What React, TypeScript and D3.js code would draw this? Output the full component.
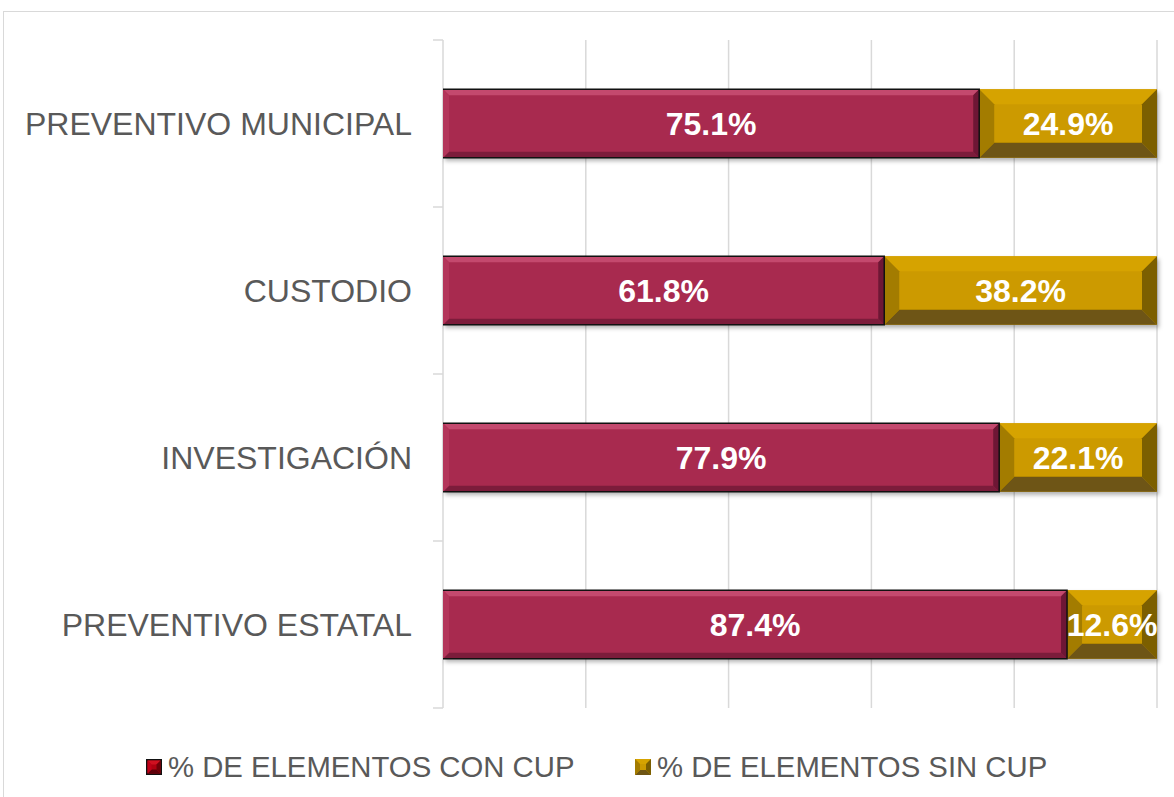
import React from "react";
import * as d3 from "d3";

const categories = ["PREVENTIVO MUNICIPAL", "CUSTODIO", "INVESTIGACIÓN", "PREVENTIVO ESTATAL"];
const conCup = [75.1, 61.8, 77.9, 87.4];
const sinCup = [24.9, 38.2, 22.1, 12.6];
const seriesNames = ["% DE ELEMENTOS CON CUP", "% DE ELEMENTOS SIN CUP"];
const xTicks = [0, 20, 40, 60, 80, 100];

const W = 1174;
const H = 797;
const plot = { left: 443, right: 1157, top: 40, bottom: 708 };

const x = d3.scaleLinear().domain([0, 100]).range([plot.left, plot.right]);
const y = d3
    .scaleBand()
    .domain(categories)
    .range([plot.top, plot.bottom])
    .paddingInner(0.59)
    .paddingOuter(0.295);

// bevel palettes, one per series
const crimson = { face: "#a8294f", top: "#c44a6e", left: "#b3345a", right: "#6e1834", bottom: "#7b1d3b" };
const gold = { face: "#cc9a00", top: "#d6a300", left: "#a37b00", right: "#7b5e00", bottom: "#6e5514" };

const pts = (arr) => arr.map((p) => p.join(",")).join(" ");

function Bevel({ x0, x1, y0, y1, b, pal }) {
    const bb = Math.min(b, (x1 - x0) / 2, (y1 - y0) / 2);
    return (
        <g>
            <rect x={x0} y={y0} width={x1 - x0} height={y1 - y0} fill={pal.face} />
            <polygon points={pts([[x0, y0], [x1, y0], [x1 - bb, y0 + bb], [x0 + bb, y0 + bb]])} fill={pal.top} />
            <polygon points={pts([[x0, y1], [x1, y1], [x1 - bb, y1 - bb], [x0 + bb, y1 - bb]])} fill={pal.bottom} />
            <polygon points={pts([[x0, y0], [x0 + bb, y0 + bb], [x0 + bb, y1 - bb], [x0, y1]])} fill={pal.left} />
            <polygon points={pts([[x1, y0], [x1 - bb, y0 + bb], [x1 - bb, y1 - bb], [x1, y1]])} fill={pal.right} />
        </g>
    );
}

export default function App() {
    const font = "'Liberation Sans', Arial, sans-serif";
    return (
        <svg
            width={W}
            height={H}
            style={{ position: "absolute", left: 0, top: 0, background: "#fff" }}
            fontFamily={font}
        >
            <defs>
                <filter id="shadow" x="-5%" y="-20%" width="110%" height="160%">
                    <feDropShadow dx="2" dy="3" stdDeviation="2" floodColor="#000" floodOpacity="0.3" />
                </filter>
            </defs>
            <rect x={3.5} y={11.5} width={W + 10} height={H + 10} fill="none" stroke="#d9d9d9" />

            {/* gridlines */}
            {xTicks.map((t) => (
                <line key={t} x1={x(t)} x2={x(t)} y1={plot.top} y2={plot.bottom} stroke="#d9d9d9" strokeWidth={1.5} />
            ))}
            {/* category ticks */}
            {[0, 1, 2, 3, 4].map((i) => {
                const yy = plot.top + (i * (plot.bottom - plot.top)) / 4;
                return <line key={i} x1={433} x2={plot.left} y1={yy} y2={yy} stroke="#d9d9d9" strokeWidth={1.5} />;
            })}

            {categories.map((c, i) => {
                const y0 = y(c);
                const y1 = y0 + y.bandwidth();
                const xa = x(0);
                const xb = x(conCup[i]);
                const xc = x(conCup[i] + sinCup[i]);
                const cy = y0 + y.bandwidth() / 2;
                return (
                    <g key={c}>
                        <text x={412} y={cy + 11.5} textAnchor="end" fontSize={32} fill="#595959">
                            {c}
                        </text>
                        <g filter="url(#shadow)">
                            <Bevel x0={xb} x1={xc} y0={y0} y1={y1} b={15} pal={gold} />
                            <Bevel x0={xa} x1={xb} y0={y0} y1={y1} b={6} pal={crimson} />
                        </g>
                        <path d={`M${xa},${y0}H${xb}V${y1}H${xa}`} fill="none" stroke="#111" strokeWidth={1.5} />
                        <text x={(xa + xb) / 2} y={cy + 11.5} textAnchor="middle" fontSize={32} fontWeight="bold" fill="#fff">
                            {conCup[i].toFixed(1)}%
                        </text>
                        <text x={(xb + xc) / 2} y={cy + 11.5} textAnchor="middle" fontSize={32} fontWeight="bold" fill="#fff">
                            {sinCup[i].toFixed(1)}%
                        </text>
                    </g>
                );
            })}

            {/* legend */}
            <g>
                <rect x={146} y={759} width={16} height={16} fill="#111" />
                <Bevel x0={147.5} x1={160.5} y0={760.5} y1={773.5} b={4} pal={{ face: "#b00010", top: "#d01020", left: "#c00018", right: "#700008", bottom: "#60000a" }} />
                <text x={168} y={777} fontSize={29.3} fill="#595959">{seriesNames[0]}</text>
                <Bevel x0={635} x1={651} y0={759} y1={775} b={5} pal={gold} />
                <text x={657} y={777} fontSize={29.3} fill="#595959">{seriesNames[1]}</text>
            </g>
        </svg>
    );
}
